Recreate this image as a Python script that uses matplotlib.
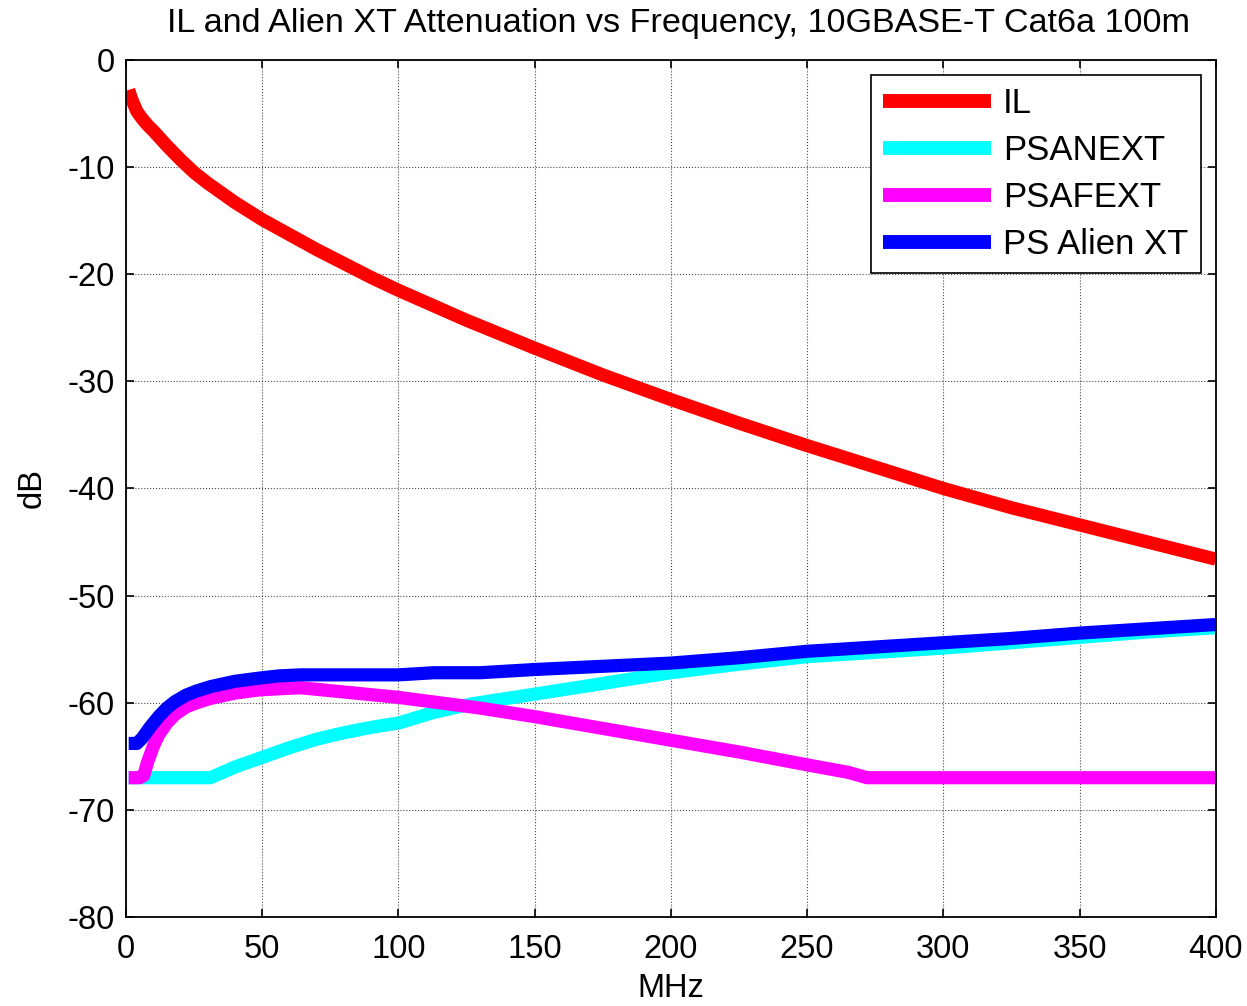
import matplotlib
matplotlib.use("Agg")
import matplotlib.pyplot as plt

plt.rcParams['font.family'] = ['Liberation Sans', 'DejaVu Sans']
plt.rcParams['axes.unicode_minus'] = False

# Data
f_il = [1, 2, 4, 6, 8, 10, 15, 20, 25, 30, 40, 50, 60, 70, 80, 90, 100, 125, 150, 175,
        200, 225, 250, 275, 300, 325, 350, 375, 400]
il = [-2.8, -3.6, -4.8, -5.5, -6.1, -6.6, -8.0, -9.3, -10.5, -11.5, -13.3, -14.9, -16.3,
      -17.7, -19.0, -20.3, -21.5, -24.3, -26.9, -29.4, -31.7, -33.9, -36.0, -38.0, -40.0,
      -41.8, -43.4, -45.0, -46.6]

f_next = [1, 10, 20, 31, 40, 50, 60, 70, 80, 90, 100, 113, 127, 150, 175, 200, 225, 250,
          275, 300, 325, 350, 375, 400]
psanext = [-67, -67, -67, -67, -66.0, -65.1, -64.2, -63.4, -62.8, -62.3, -61.9, -60.9,
           -60.1, -59.2, -58.2, -57.2, -56.4, -55.7, -55.3, -54.9, -54.4, -53.9, -53.4, -53.0]

f_fext = [1, 5, 6.5, 8, 10, 12, 15, 18, 22, 26, 31, 40, 49, 56, 64, 76, 88, 100, 115,
          130, 150, 175, 200, 225, 250, 265, 272, 300, 350, 400]
psafext = [-67, -67, -66.8, -65.5, -64.1, -63.0, -61.9, -61.1, -60.4, -60.0, -59.6, -59.1,
           -58.8, -58.7, -58.6, -58.9, -59.2, -59.5, -60.0, -60.5, -61.3, -62.4, -63.5,
           -64.6, -65.8, -66.5, -67.0, -67.0, -67.0, -67.0]

f_alien = [1, 4, 6, 8.8, 12, 15, 18, 22, 26, 31, 40, 49, 56, 64, 80, 100, 113, 130, 150,
           175, 200, 225, 250, 275, 300, 325, 350, 375, 400]
ps_alien = [-63.8, -63.8, -63.3, -62.3, -61.3, -60.5, -59.9, -59.3, -58.9, -58.5, -58.0,
            -57.7, -57.5, -57.4, -57.4, -57.4, -57.2, -57.2, -56.9, -56.6, -56.3, -55.8,
            -55.2, -54.8, -54.4, -54.0, -53.5, -53.1, -52.7]

x_ticks = [0, 50, 100, 150, 200, 250, 300, 350, 400]
y_ticks = [0, -10, -20, -30, -40, -50, -60, -70, -80]

fig = plt.figure(figsize=(12.47, 10.06), dpi=100)
ax = fig.add_axes([0.101, 0.0885, 0.874, 0.8519])

lw = 9.5
ax.plot(f_il, il, color='#ff0000', lw=lw, label='IL', solid_capstyle='butt')
ax.plot(f_next, psanext, color='#00ffff', lw=lw, label='PSANEXT', solid_capstyle='butt')
ax.plot(f_fext, psafext, color='#ff00ff', lw=lw, label='PSAFEXT', solid_capstyle='butt')
ax.plot(f_alien, ps_alien, color='#0000ff', lw=lw, label='PS Alien XT', solid_capstyle='butt')

ax.set_xlim(0, 400)
ax.set_ylim(-80, 0)
ax.set_xticks(x_ticks)
ax.set_yticks(y_ticks)
ax.tick_params(direction='in', top=True, right=True, labelsize=23.5, length=6, width=1.2)
ax.tick_params(axis='x', pad=12)
ax.tick_params(axis='y', pad=8)
ax.grid(True, color='black', linestyle=':', linewidth=0.8, alpha=0.7)
for s in ax.spines.values():
    s.set_linewidth(1.3)

ax.set_title('IL and Alien XT Attenuation vs Frequency, 10GBASE-T Cat6a 100m',
             fontsize=24.6, pad=20, x=0.507)
ax.set_xlabel('MHz', fontsize=23.5, labelpad=6)
ax.set_ylabel('dB', fontsize=23.5, labelpad=14)

leg = ax.legend(loc='upper right', bbox_to_anchor=(0.986, 0.9825), borderaxespad=0,
                fontsize=25, handlelength=3.1, handletextpad=0.35, borderpad=0.35,
                labelspacing=0.4, fancybox=False, framealpha=1, edgecolor='black')
leg.get_frame().set_linewidth(1.2)
for h in leg.get_lines():
    h.set_linewidth(10)

fig.savefig('out.png', dpi=100)
